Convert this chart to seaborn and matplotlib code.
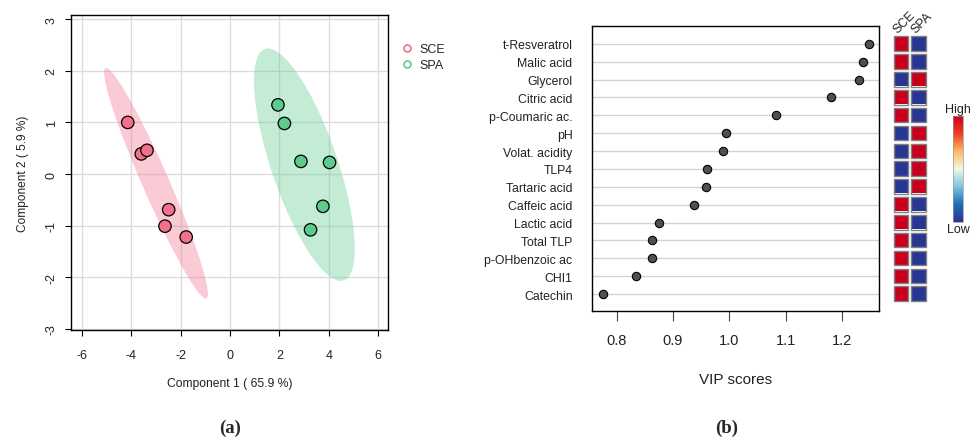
import numpy as np
import pandas as pd
import matplotlib
matplotlib.use('Agg')
import matplotlib.pyplot as plt
import seaborn as sns
from matplotlib.patches import Ellipse, Rectangle
from matplotlib.lines import Line2D
from matplotlib.colors import LinearSegmentedColormap
from matplotlib.cm import ScalarMappable

# ---------------- data ----------------
groups = ['SCE', 'SPA']
sce_x = [-4.15, -3.60, -3.37, -2.49, -2.64, -1.78]
sce_y = [1.00, 0.39, 0.46, -0.69, -1.01, -1.22]
spa_x = [1.94, 2.20, 2.87, 4.03, 3.76, 3.26]
spa_y = [1.34, 0.98, 0.245, 0.225, -0.625, -1.08]
x_ticks = [-6, -4, -2, 0, 2, 4, 6]
y_ticks = [-3, -2, -1, 0, 1, 2, 3]

features = ['t-Resveratrol', 'Malic acid', 'Glycerol', 'Citric acid', 'p-Coumaric ac.',
            'pH', 'Volat. acidity', 'TLP4', 'Tartaric acid', 'Caffeic acid',
            'Lactic acid', 'Total TLP', 'p-OHbenzoic ac', 'CHI1', 'Catechin']
vip = [1.248, 1.238, 1.231, 1.181, 1.083, 0.994, 0.989, 0.961, 0.958, 0.938,
       0.875, 0.863, 0.862, 0.834, 0.776]
sce_level = [1, 1, 0, 1, 1, 0, 0, 0, 0, 1, 1, 1, 1, 1, 1]
spa_level = [0, 0, 1, 0, 0, 1, 1, 1, 1, 0, 0, 0, 0, 0, 0]
vip_ticks = [0.8, 0.9, 1.0, 1.1, 1.2]

# ---------------- style ----------------
sns.set_theme(style='white')
plt.rcParams['font.family'] = ['Liberation Sans', 'DejaVu Sans']
plt.rcParams['axes.unicode_minus'] = False

W, H = 974, 439
fig = plt.figure(figsize=(W / 100, H / 100), dpi=100)


def box(l, t, r, b):
    return [l / W, 1 - b / H, (r - l) / W, (b - t) / H]


# ---------------- panel (a) ----------------
ax1 = fig.add_axes(box(71, 16, 388, 331))
pca = pd.DataFrame({'x': sce_x + spa_x, 'y': sce_y + spa_y,
                    'group': ['SCE'] * len(sce_x) + ['SPA'] * len(spa_x)})
colors = {'SCE': '#F2708A', 'SPA': '#5CCB8C'}
t = np.sqrt(-2 * np.log(0.05))  # 95% chi-square, 2 df
for g, sub in pca.groupby('group'):
    cov = np.cov(sub['x'], sub['y'])
    vals, vecs = np.linalg.eigh(cov)
    order = vals.argsort()[::-1]
    vals, vecs = vals[order], vecs[:, order]
    angle = np.degrees(np.arctan2(vecs[1, 0], vecs[0, 0]))
    ax1.add_patch(Ellipse((sub['x'].mean(), sub['y'].mean()),
                          2 * t * np.sqrt(vals[0]), 2 * t * np.sqrt(vals[1]),
                          angle=angle, facecolor=colors[g], alpha=0.36,
                          edgecolor='none', zorder=1))
sns.scatterplot(data=pca, x='x', y='y', hue='group', palette=colors, s=80,
                edgecolor='black', linewidth=0.9, legend=False, ax=ax1, zorder=3)
ax1.set_xlim(-6.45, 6.4)
ax1.set_ylim(-3.02, 3.08)
ax1.set_xticks(x_ticks)
ax1.set_yticks(y_ticks)
ax1.set_xticklabels([str(v) for v in x_ticks])
ax1.set_yticklabels([str(v) for v in y_ticks], rotation=90, va='center')
ax1.grid(True, color='#DCDCDC', lw=1)
ax1.set_axisbelow(True)
for s in ax1.spines.values():
    s.set_color('black')
    s.set_linewidth(1.0)
ax1.tick_params(bottom=True, left=True, direction='out', length=4.5, width=0.8,
                color='black', labelsize=9, labelcolor='#222222')
ax1.tick_params(axis='x', pad=9)
ax1.tick_params(axis='y', pad=5)
ax1.set_xlabel('Component 1 ( 65.9 %)', fontsize=8.7, labelpad=12, color='#222222')
ax1.set_ylabel('Component 2 ( 5.9 %)', fontsize=8.6, labelpad=12, color='#222222')

handles = [Line2D([], [], marker='o', linestyle='', markerfacecolor='none',
                  markeredgecolor=colors[g], markersize=5, markeredgewidth=1.2)
           for g in groups]
fig.legend(handles, groups, loc='upper left', bbox_to_anchor=(402 / W, 1 - 44 / H),
           frameon=False, fontsize=9, handlelength=0.8, handletextpad=0.6,
           labelspacing=0.35, borderaxespad=0, borderpad=0)

# ---------------- panel (b) ----------------
ax2 = fig.add_axes(box(592, 27, 879, 312))
vip_df = pd.DataFrame({'feature': features, 'vip': vip})
sns.stripplot(data=vip_df, x='vip', y='feature', jitter=False, color='#505050',
              size=6, edgecolor='black', linewidth=0.8, ax=ax2, zorder=3)
ax2.set_xlim(0.756, 1.266)
ax2.set_ylim(len(features) - 0.05, -1.0)
ax2.set_xticks(vip_ticks)
ax2.set_xticklabels([f'{v:.1f}' for v in vip_ticks])
ax2.grid(axis='y', color='#D3D3D3', lw=1)
ax2.grid(axis='x', visible=False)
ax2.set_axisbelow(True)
for s in ax2.spines.values():
    s.set_color('black')
    s.set_linewidth(1.0)
ax2.tick_params(axis='y', length=0, pad=14, labelsize=8.8, labelcolor='#222222')
ax2.tick_params(axis='x', bottom=True, direction='out', length=7, width=0.8,
                color='#444444', pad=9, labelsize=10.5, labelcolor='#222222')
ax2.set_xlabel('VIP scores', fontsize=11, labelpad=18, color='#222222')
ax2.set_ylabel('')

# heat squares
cmap = LinearSegmentedColormap.from_list(
    'hl', ['#283593', '#1F6FB4', '#7FC4E0', '#F4F7E0', '#FDB863', '#F03B20', '#C8001E'])
ax3 = fig.add_axes(box(892.2, 35.8, 927.5, 303.6))
heat = pd.DataFrame({'SCE': sce_level, 'SPA': spa_level}, index=features)
sns.heatmap(heat, cmap=cmap, vmin=0, vmax=1, cbar=False, linewidths=2.6,
            linecolor='white', xticklabels=False, yticklabels=False, ax=ax3)
gap = 0.09
for i in range(heat.shape[0]):
    for j in range(heat.shape[1]):
        ax3.add_patch(Rectangle((j + gap, i + gap), 1 - 2 * gap, 1 - 2 * gap,
                                fill=False, edgecolor='#808080', lw=1.0, zorder=5))
for j, name in enumerate(heat.columns):
    ax3.text(j + 0.3, -0.1, name, rotation=45, ha='left', va='baseline',
             rotation_mode='anchor', fontsize=9, color='#222222')
ax3.set_xlabel('')
ax3.set_ylabel('')

# colour key
cax = fig.add_axes(box(952.7, 116.7, 963.3, 222.7))
cb = fig.colorbar(ScalarMappable(cmap=cmap), cax=cax)
cb.set_ticks([])
cb.outline.set_linewidth(0.5)
cb.outline.set_edgecolor('#999999')
fig.text(958 / W, 1 - 110 / H, 'High', ha='center', va='center', fontsize=9, color='#222222')
fig.text(958 / W, 1 - 230 / H, 'Low', ha='center', va='center', fontsize=9, color='#222222')

# panel labels
fig.text(230 / W, 1 - 428 / H, '(a)', ha='center', va='center', fontsize=13.5,
         fontweight='bold', family=['Liberation Serif', 'DejaVu Serif'])
fig.text(727 / W, 1 - 428 / H, '(b)', ha='center', va='center', fontsize=13.5,
         fontweight='bold', family=['Liberation Serif', 'DejaVu Serif'])

fig.savefig('out.png', dpi=100)
